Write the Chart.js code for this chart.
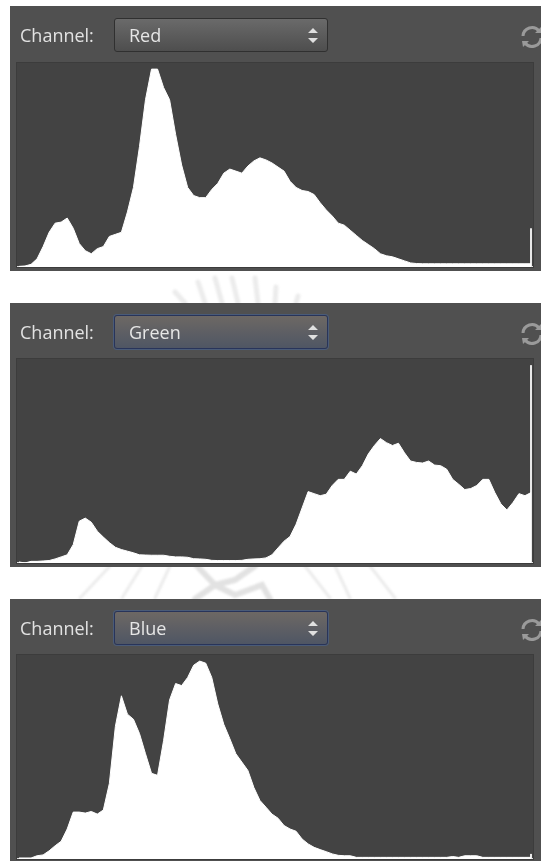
<!DOCTYPE html>
<html lang="en">
<head>
  <meta charset="UTF-8" />
  <title>Channel histograms</title>
  <script src="https://cdn.jsdelivr.net/npm/chart.js"></script>
  <style>
    html, body { margin: 0; background: #fff; overflow: hidden; }
    body { width: 541px; height: 861px; position: relative; font-family: "Open Sans", sans-serif; }
    .watermark { position: absolute; left: 0; top: 0; filter: blur(1px); }
    .panel { position: absolute; left: 10px; width: 531px; background: #505050; overflow: hidden; }
    .label { position: absolute; left: 10px; top: 17px; color: #e2e2e2; font-size: 18px; line-height: 24px; filter: blur(.5px); }
    .select { position: absolute; left: 104px; top: 12px; width: 214px; height: 34px; box-sizing: border-box; border: 1px solid #303030; border-radius: 3px; background: linear-gradient(#6a6a6a, #4e4e4e); }
    .select.focus { border: 1px solid #28345a; box-shadow: 0 0 0 1px #4a5b78; background: linear-gradient(#6d6864, #4f5664); }
    .select span { position: absolute; left: 14px; top: 4px; color: #e6e6e6; font-size: 18px; line-height: 24px; filter: blur(.5px); }
    .select svg { position: absolute; right: 8px; top: 8px; }
    .refresh { position: absolute; left: 510px; top: 18px; }
    .plot { position: absolute; left: 7px; width: 516px; background: #434343; outline: 1px solid #3c3c3c; }
    .plot canvas { display: block; }
  </style>
</head>
<body>

  <svg class="watermark" width="541" height="861" fill="none" stroke="#ececec" stroke-width="5" stroke-linecap="round">
    <path d="M175 292L185 303M198 282L205 303M215 278L222 303M232 278L238 303M255 278L258 303M276 287L275 303M298 296L296 303"/>
    <path d="M110 566L80 598M142 566L122 598M170 566L155 598M305 566L330 598M335 566L350 598M370 566L395 598" stroke-width="3"/>
    <path d="M197 566L215 585L235 580L255 566M195 599L215 585L235 595L262 585L270 599" stroke="#e2e2e2" stroke-width="6"/>
  </svg>

  <div class="panel" style="top:6px;height:265px">
    <div class="label">Channel:</div>
    <div class="select"><span>Red</span><svg width="12" height="17"><path d="M6 1l5 5H1zM6 16l5-5H1z" fill="#e0e0e0"/></svg></div>
    <svg class="refresh" width="24" height="26"><path d="M3 12a9 9 0 0 1 16-5M21 14a9 9 0 0 1-16 5" fill="none" stroke="#9a9a9a" stroke-width="3"/><path d="M15 9l7 0-1-6zM9 17l-7 0 1 6z" fill="#9a9a9a"/></svg>
    <div class="plot" style="top:57px;height:204px"><canvas id="graficoRed" width="516" height="204"></canvas></div>
  </div>

  <div class="panel" style="top:303px;height:264px">
    <div class="label">Channel:</div>
    <div class="select focus"><span>Green</span><svg width="12" height="17"><path d="M6 1l5 5H1zM6 16l5-5H1z" fill="#e0e0e0"/></svg></div>
    <svg class="refresh" width="24" height="26"><path d="M3 12a9 9 0 0 1 16-5M21 14a9 9 0 0 1-16 5" fill="none" stroke="#9a9a9a" stroke-width="3"/><path d="M15 9l7 0-1-6zM9 17l-7 0 1 6z" fill="#9a9a9a"/></svg>
    <div class="plot" style="top:56px;height:204px"><canvas id="graficoGreen" width="516" height="204"></canvas></div>
  </div>

  <div class="panel" style="top:599px;height:262px">
    <div class="label">Channel:</div>
    <div class="select focus"><span>Blue</span><svg width="12" height="17"><path d="M6 1l5 5H1zM6 16l5-5H1z" fill="#e0e0e0"/></svg></div>
    <svg class="refresh" width="24" height="26"><path d="M3 12a9 9 0 0 1 16-5M21 14a9 9 0 0 1-16 5" fill="none" stroke="#9a9a9a" stroke-width="3"/><path d="M15 9l7 0-1-6zM9 17l-7 0 1 6z" fill="#9a9a9a"/></svg>
    <div class="plot" style="top:56px;height:204px"><canvas id="graficoBlue" width="516" height="204"></canvas></div>
  </div>

  <script>
    // tone levels, shared by the three histograms
    const levels = [0,3,6,9,12,15,18,21,24,27,30,33,36,39,42,45,48,51,54,57,60,63,66,69,72,75,78,81,84,87,90,93,96,99,102,105,108,111,114,117,120,123,126,129,132,135,138,141,144,147,150,153,156,159,162,165,168,171,174,177,180,183,186,189,192,195,198,201,204,207,210,213,216,219,222,225,228,231,234,237,240,243,246,249,252,255];

    // counts, as % of the plot height
    const redCounts = [0.3,0.5,1.3,4,10,17,21.5,22,24,19,11.5,8,6.5,9,10,15,16,17,27,39,59,82,97,97,88,82,65,50,39,35,34,34,38,41,46,48,47,46,49.5,52,53.5,52.5,51,49,47,42,39,37.5,37,35.5,31.5,28,25,21.5,20.5,18,15.5,13,11,9,6.5,5.5,5,4,3,2,1.7,1.6,1.6,1.6,1.6,1.6,1.6,1.6,1.6,1.6,1.6,1.6,1.6,1.6,1.6,1.6,1.6,1.6,1.6,1.6];
    const greenCounts = [0.5,0,0.8,0.8,1,1.2,2,3,4,9,20.5,22,20,15.6,12.7,10,7.7,6.6,5.8,5,4,3.9,3.8,3.8,3.8,3.3,3,3,2.8,2.1,2,1.8,1.3,1.2,1.2,1.2,1.2,1.3,1.8,2,2.1,2.5,4,7.4,10.7,13,19,27,35,34,33,33.7,38,41,41,45,43.6,47.7,53.5,57.6,61,59,57.6,58.7,54,50,49.3,49,50,48,47.7,46,41,38.6,36,36.5,38,41,41,34.5,29,26,29.6,34,33,34.5];
    const blueCounts = [0.5,0.5,0.5,1.6,2,4,6.5,8.7,14.7,23,23,22.5,23.3,22,24,37,65,80,71,68.5,61.5,51.6,42,41,58,78,86,85,89,95,97,96,89,76,66,59,51.6,47.5,43.4,35,28.7,25.4,22,20,16.4,14.7,13.6,9.8,7.4,5.7,4.6,3.6,2.5,1.8,1.6,1.6,0.8,0.8,0.8,0.8,0.8,0.8,0.8,0.8,0.8,0.8,0.8,0.8,0.8,0.8,0.8,0.8,1.2,0.8,1.6,1.6,1.6,0.8,0.8,0.8,0.8,0.8,0.8,0.8,0.8,0.8];

    // the clipped-highlights spike at the right edge
    const redClip = 19;
    const greenClip = 97;
    const blueClip = 2.5;

    function gerarHistograma(id, valores, clip) {
      new Chart(document.getElementById(id), {
        type: "line",
        data: {
          datasets: [
            {
              data: levels.map((l, i) => ({ x: l, y: valores[i] })),
              borderColor: "#ffffff",
              borderWidth: 1,
              backgroundColor: "#ffffff",
              fill: "origin",
              pointRadius: 0
            },
            {
              data: [{ x: 255, y: 0 }, { x: 255, y: clip }],
              borderColor: "#e8e8e8",
              borderWidth: 2,
              pointRadius: 0
            }
          ]
        },
        options: {
          responsive: false,
          animation: false,
          layout: { padding: 0 },
          plugins: { legend: { display: false }, tooltip: { enabled: false } },
          scales: {
            x: {
              type: "linear", min: -1, max: 256,
              ticks: { display: false },
              grid: { display: false, drawTicks: false },
              border: { color: "#dddddd", width: 2 }
            },
            y: {
              min: 0, max: 100,
              ticks: { display: false },
              grid: { display: false, drawTicks: false },
              border: { display: false }
            }
          }
        }
      });
    }

    gerarHistograma("graficoRed", redCounts, redClip);
    gerarHistograma("graficoGreen", greenCounts, greenClip);
    gerarHistograma("graficoBlue", blueCounts, blueClip);
  </script>
</body>
</html>
